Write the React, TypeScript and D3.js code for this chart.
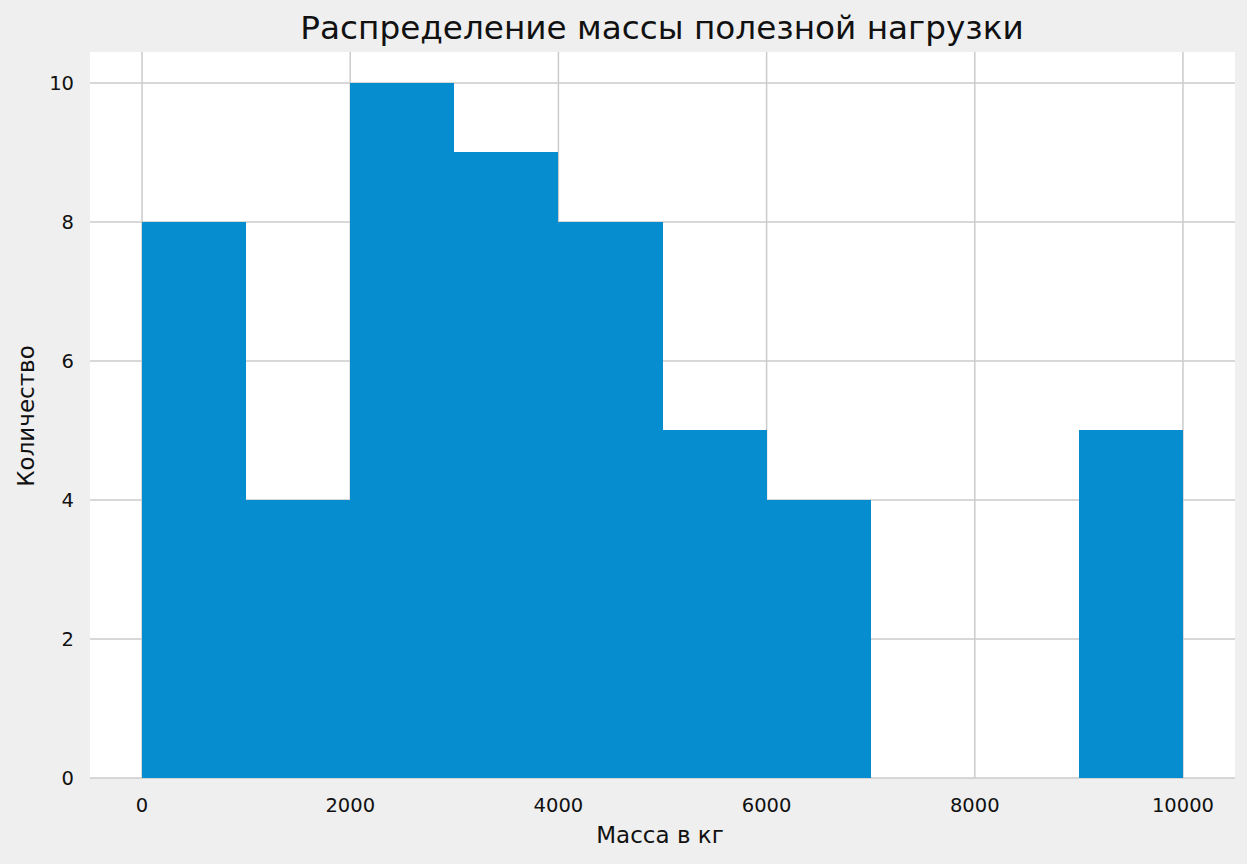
import React from "react";
import * as d3 from "d3";

const binStarts = [0, 1000, 2000, 3000, 4000, 5000, 6000, 7000, 8000, 9000];
const binWidth = 1000;
const counts = [8, 4, 10, 9, 8, 5, 4, 0, 0, 5];
const xTicks = [0, 2000, 4000, 6000, 8000, 10000];
const yTicks = [0, 2, 4, 6, 8, 10];
const title = "Распределение массы полезной нагрузки";
const xLabel = "Масса в кг";
const yLabel = "Количество";

const W = 1247;
const H = 864;
const plot = { left: 90, right: 1235, top: 52, bottom: 778 };
const font = "'DejaVu Sans', sans-serif";

export default function App() {
  const x = d3.scaleLinear().domain([-500, 10500]).range([plot.left, plot.right]);
  const y = d3.scaleLinear().domain([0, 10.446]).range([plot.bottom, plot.top]);
  return (
    <svg width={W} height={H} style={{ position: "absolute", left: 0, top: 0 }}>
      <rect x={0} y={0} width={W} height={H} fill="#efefef" />
      <rect x={plot.left} y={plot.top} width={plot.right - plot.left} height={plot.bottom - plot.top} fill="#ffffff" />
      {xTicks.map((t) => (
        <line key={"gx" + t} x1={x(t)} x2={x(t)} y1={plot.top} y2={plot.bottom} stroke="#cbcbcb" strokeWidth={1.5} />
      ))}
      {yTicks.map((t) => (
        <line key={"gy" + t} x1={plot.left} x2={plot.right} y1={y(t)} y2={y(t)} stroke="#cbcbcb" strokeWidth={1.5} />
      ))}
      <g shapeRendering="crispEdges">
        {binStarts.map((b, i) =>
          counts[i] > 0 ? (
            <rect
              key={"b" + i}
              x={Math.round(x(b))}
              y={y(counts[i])}
              width={Math.round(x(b + binWidth)) - Math.round(x(b))}
              height={y(0) - y(counts[i])}
              fill="#068dcf"
            />
          ) : null
        )}
      </g>
      {xTicks.map((t) => (
        <text key={"tx" + t} x={x(t)} y={812} textAnchor="middle" fontFamily={font} fontSize={19.5} fill="#111">
          {t}
        </text>
      ))}
      {yTicks.map((t) => (
        <text key={"ty" + t} x={74} y={y(t)} dy="0.35em" textAnchor="end" fontFamily={font} fontSize={19.5} fill="#111">
          {t}
        </text>
      ))}
      <text x={662} y={39} textAnchor="middle" fontFamily={font} fontSize={32.7} fill="#111">
        {title}
      </text>
      <text x={660} y={843} textAnchor="middle" fontFamily={font} fontSize={23} fill="#111">
        {xLabel}
      </text>
      <text transform={`translate(34,416) rotate(-90)`} textAnchor="middle" fontFamily={font} fontSize={23} fill="#111">
        {yLabel}
      </text>
    </svg>
  );
}
